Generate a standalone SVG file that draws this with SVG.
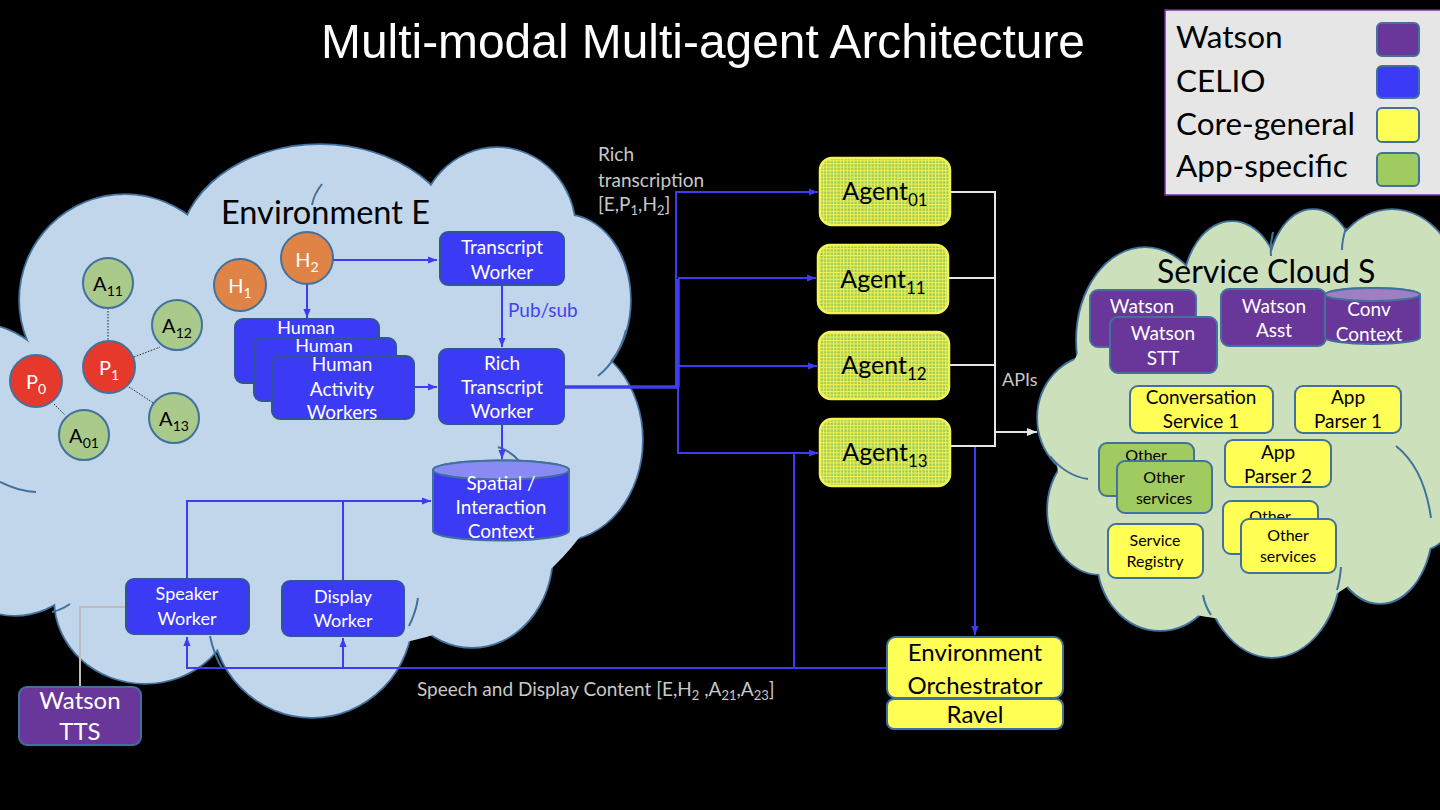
<svg xmlns="http://www.w3.org/2000/svg" width="1440" height="810" viewBox="0 0 1440 810">
<defs>
<style>
.t{font-family:Lato,'Open Sans','DejaVu Sans',sans-serif}
.w{fill:#fff}
.k{fill:#000}
.m{text-anchor:middle}
.celio{fill:#3b3bf6;stroke:#2f5597;stroke-width:2}
.watson{fill:#693699;stroke:#41719c;stroke-width:2}
.core{fill:#ffff55;stroke:#41719c;stroke-width:2}
.app{fill:#a0cb60;stroke:#41719c;stroke-width:2}
.agent{fill:url(#grid);stroke:#f4f450;stroke-width:2.5}
.circ{stroke:#41719c;stroke-width:2}
.blue{fill:none;stroke:#3c3cf5;stroke-width:2}
.wline{fill:none;stroke:#e6e6e6;stroke-width:2}
.gline{fill:none;stroke:#bdbdbd;stroke-width:2}
.cs{fill:none;stroke:#41719c;stroke-width:3.5}
.envf{fill:#c2d6eb}
.svcf{fill:#cde0bc}
.arc{fill:none;stroke:#41719c;stroke-width:2}
.dot{stroke:#222;stroke-width:1;stroke-dasharray:1.5 1.5}
.lbl{fill:#c8c8c8}
</style>
<pattern id="grid" width="3.4" height="3.4" patternUnits="userSpaceOnUse"><rect width="3.4" height="3.4" fill="#9ccb5a"/><path d="M0 0.55H3.4M0.55 0V3.4" stroke="#f2f252" stroke-width="1.1"/></pattern>
<marker id="ab" viewBox="0 0 10 10" refX="10" refY="5" markerWidth="9" markerHeight="9" markerUnits="userSpaceOnUse" orient="auto"><path d="M0 1L10 5L0 9Z" fill="#3c3cf5"/></marker>
<marker id="aw" viewBox="0 0 10 10" refX="10" refY="5" markerWidth="10" markerHeight="10" markerUnits="userSpaceOnUse" orient="auto"><path d="M0 1L10 5L0 9Z" fill="#e6e6e6"/></marker>
</defs>
<rect width="1440" height="810" fill="#000"/>

<text x="321" y="58" font-family="'Liberation Sans',Arial,sans-serif" font-size="49" fill="#fff" textLength="764" lengthAdjust="spacingAndGlyphs">Multi-modal Multi-agent Architecture</text>

<g id="legend">
<rect x="1165" y="10" width="276" height="185" fill="#e7e6e6" stroke="#7030a0" stroke-width="1.5"/>
<g class="t k" font-size="31.5">
<text x="1176" y="48">Watson</text>
<text x="1176" y="92">CELIO</text>
<text x="1176" y="135">Core-general</text>
<text x="1176" y="177">App-specific</text>
</g>
<rect x="1377" y="23" width="42" height="33" rx="5" class="watson"/>
<rect x="1377" y="66" width="42" height="32" rx="5" class="celio" style="stroke:#41719c"/>
<rect x="1377" y="108" width="42" height="34" rx="5" class="core"/>
<rect x="1377" y="153" width="42" height="33" rx="5" class="app"/>
</g>

<g id="environment-cloud">
<g class="cs">
<circle cx="-25" cy="412" r="88"/><circle cx="125" cy="300" r="105"/>
<ellipse cx="320" cy="250" rx="140" ry="105"/><ellipse cx="497" cy="230" rx="78" ry="82"/>
<ellipse cx="565" cy="300" rx="65" ry="85"/><ellipse cx="560" cy="440" rx="82" ry="100"/>
<ellipse cx="472" cy="555" rx="80" ry="92"/><ellipse cx="312" cy="615" rx="100" ry="102"/>
<ellipse cx="145" cy="600" rx="90" ry="83"/><ellipse cx="15" cy="530" rx="80" ry="85"/>
</g>
<g class="envf">
<circle cx="-25" cy="412" r="88"/><circle cx="125" cy="300" r="105"/>
<ellipse cx="320" cy="250" rx="140" ry="105"/><ellipse cx="497" cy="230" rx="78" ry="82"/>
<ellipse cx="565" cy="300" rx="65" ry="85"/><ellipse cx="560" cy="440" rx="82" ry="100"/>
<ellipse cx="472" cy="555" rx="80" ry="92"/><ellipse cx="312" cy="615" rx="100" ry="102"/>
<ellipse cx="145" cy="600" rx="90" ry="83"/><ellipse cx="15" cy="530" rx="80" ry="85"/>
<ellipse cx="330" cy="420" rx="290" ry="230"/>
</g>
<g class="arc">
<path d="M0 482Q20 492 36 492"/>
<path d="M322 184Q314 194 312 205"/>
<path d="M626 330A65 85 0 0 1 598 376"/>
<path d="M498 447Q511 451 520 462"/>
<path d="M418 598Q416 612 409 626"/>
<path d="M210 636Q214 655 222 668"/>
<path d="M52 612Q61 610 70 604"/>
</g>
<text x="221" y="224" class="t k" font-size="32.5">Environment E</text>
</g>

<g id="service-cloud">
<g class="cs">
<ellipse cx="1095" cy="418" rx="57" ry="62"/><ellipse cx="1145" cy="340" rx="68" ry="92"/>
<ellipse cx="1232" cy="290" rx="48" ry="68"/><ellipse cx="1313" cy="280" rx="45" ry="70"/>
<ellipse cx="1392" cy="300" rx="70" ry="90"/><ellipse cx="1420" cy="410" rx="60" ry="140"/>
<ellipse cx="1380" cy="525" rx="52" ry="78"/><ellipse cx="1272" cy="565" rx="68" ry="92"/>
<ellipse cx="1160" cy="560" rx="62" ry="70"/><ellipse cx="1100" cy="510" rx="52" ry="64"/>
</g>
<g class="svcf">
<ellipse cx="1095" cy="418" rx="57" ry="62"/><ellipse cx="1145" cy="340" rx="68" ry="92"/>
<ellipse cx="1232" cy="290" rx="48" ry="68"/><ellipse cx="1313" cy="280" rx="45" ry="70"/>
<ellipse cx="1392" cy="300" rx="70" ry="90"/><ellipse cx="1420" cy="410" rx="60" ry="140"/>
<ellipse cx="1380" cy="525" rx="52" ry="78"/><ellipse cx="1272" cy="565" rx="68" ry="92"/>
<ellipse cx="1160" cy="560" rx="62" ry="70"/><ellipse cx="1100" cy="510" rx="52" ry="64"/>
<ellipse cx="1240" cy="440" rx="185" ry="180"/>
</g>
<g class="arc">
<path d="M1050 456Q1066 476 1088 479"/>
<path d="M1203 595Q1205 606 1211 615"/>
<path d="M1273 232Q1270 245 1271 256"/>
<path d="M1346 228Q1342 240 1342 250"/>
<path d="M1396 446Q1424 468 1431 518"/>
<path d="M1341 567Q1340 580 1337 590"/>
</g>
<text x="1157" y="283" class="t k" font-size="32">Service Cloud S</text>
</g>

<g id="connectors">
<g class="dot">
<path d="M108 308V341"/><path d="M134 357L160 347"/><path d="M129 387L155 404"/><path d="M54 404L65 415"/>
</g>
<path class="blue" d="M333 260H437" marker-end="url(#ab)"/>
<path class="blue" d="M307 284V318" marker-end="url(#ab)"/>
<path class="blue" d="M414 387H437" marker-end="url(#ab)"/>
<path class="blue" d="M502 285V347" marker-end="url(#ab)"/>
<path class="blue" d="M502 424V459" marker-end="url(#ab)"/>
<path class="blue" d="M187 579V501H431" marker-end="url(#ab)"/>
<path class="blue" d="M343 580V501"/>
<path class="blue" d="M565 387H679" style="stroke-width:3.5"/>
<path class="blue" d="M678 387V279" style="stroke-width:3.5"/>
<path class="blue" d="M676 387V192H818" marker-end="url(#ab)"/>
<path class="blue" d="M678 278H816" marker-end="url(#ab)"/>
<path class="blue" d="M678 366H817" marker-end="url(#ab)"/>
<path class="blue" d="M678 387V453H818" marker-end="url(#ab)"/>
<path class="wline" d="M950 192H995M948 278H995M949 365H995M950 446H995M995 191V447"/>
<path class="wline" d="M995 432H1037" marker-end="url(#aw)"/>
<path class="blue" d="M975 447V635" marker-end="url(#ab)"/>
<path class="blue" d="M887 668H187V637" marker-end="url(#ab)"/>
<path class="blue" d="M343 668V638" marker-end="url(#ab)"/>
<path class="blue" d="M794 668V453"/>
<path class="gline" d="M126 607H80V687"/>
<g class="t lbl" font-size="19">
<text x="598" y="161">Rich</text>
<text x="598" y="187">transcription</text>
<text x="598" y="211">[E,P<tspan font-size="13" dy="4">1</tspan><tspan dy="-4">,H</tspan><tspan font-size="13" dy="4">2</tspan><tspan dy="-4">]</tspan></text>
<text x="1002" y="386" font-size="18">APIs</text>
<text x="417" y="696">Speech and Display Content [E,H<tspan font-size="13" dy="4">2</tspan><tspan dy="-4"> ,A</tspan><tspan font-size="13" dy="4">21</tspan><tspan dy="-4">,A</tspan><tspan font-size="13" dy="4">23</tspan><tspan dy="-4">]</tspan></text>
</g>
<text x="508" y="317" class="t" font-size="19" fill="#4343f2">Pub/sub</text>
</g>

<g id="A11"><circle cx="108" cy="283" r="25" fill="#a9ca8b" class="circ"/><text x="108" y="291" class="t k m" font-size="20">A<tspan font-size="14" dy="5">11</tspan></text></g>
<g id="A12"><circle cx="177" cy="325" r="25" fill="#a9ca8b" class="circ"/><text x="177" y="333" class="t k m" font-size="20">A<tspan font-size="14" dy="5">12</tspan></text></g>
<g id="A13"><circle cx="174" cy="418" r="25" fill="#a9ca8b" class="circ"/><text x="174" y="426" class="t k m" font-size="20">A<tspan font-size="14" dy="5">13</tspan></text></g>
<g id="A01"><circle cx="84" cy="435" r="25" fill="#a9ca8b" class="circ"/><text x="84" y="443" class="t k m" font-size="20">A<tspan font-size="14" dy="5">01</tspan></text></g>
<g id="P1"><circle cx="109" cy="367" r="26" fill="#e7392b" class="circ"/><text x="109" y="375" class="t w m" font-size="20">P<tspan font-size="14" dy="5">1</tspan></text></g>
<g id="P0"><circle cx="36" cy="381" r="26" fill="#e7392b" class="circ"/><text x="36" y="389" class="t w m" font-size="20">P<tspan font-size="14" dy="5">0</tspan></text></g>
<g id="H2"><circle cx="307" cy="258" r="26" fill="#df8446" class="circ"/><text x="307" y="267" class="t w m" font-size="20">H<tspan font-size="14" dy="5">2</tspan></text></g>
<g id="H1"><circle cx="240" cy="285" r="26" fill="#df8446" class="circ"/><text x="240" y="293" class="t w m" font-size="20">H<tspan font-size="14" dy="5">1</tspan></text></g>

<g id="transcript-worker"><rect x="440" y="232" width="124" height="53" rx="8" class="celio"/><text class="t w m" font-size="19"><tspan x="502" y="254">Transcript</tspan><tspan x="502" y="279">Worker</tspan></text></g>
<g id="rich-transcript-worker"><rect x="439" y="349" width="125" height="75" rx="8" class="celio"/><text class="t w m" font-size="19"><tspan x="502" y="370">Rich</tspan><tspan x="502" y="394">Transcript</tspan><tspan x="502" y="418">Worker</tspan></text></g>
<g id="human-activity-workers">
<rect x="235" y="319" width="144" height="64" rx="8" class="celio"/><text x="306" y="334" class="t w m" font-size="18">Human</text>
<rect x="254" y="338" width="142" height="63" rx="8" class="celio"/><text x="324" y="352" class="t w m" font-size="18">Human</text>
<rect x="272" y="356" width="142" height="63" rx="8" class="celio"/><text class="t w m" font-size="19"><tspan x="342" y="371">Human</tspan><tspan x="342" y="396">Activity</tspan><tspan x="342" y="419">Workers</tspan></text>
</g>
<g id="spatial-context">
<path d="M433 470V531A68 9.5 0 0 0 569 531V470A68 9.5 0 0 0 433 470Z" class="celio" style="stroke:#41719c"/>
<ellipse cx="501" cy="470" rx="68" ry="9.5" fill="#8a8af5" stroke="#41719c" stroke-width="2"/>
<text class="t w m" font-size="19"><tspan x="501" y="490">Spatial /</tspan><tspan x="501" y="514">Interaction</tspan><tspan x="501" y="538">Context</tspan></text>
</g>
<g id="speaker-worker"><rect x="126" y="579" width="123" height="55" rx="8" class="celio"/><text class="t w m" font-size="18"><tspan x="187" y="600">Speaker</tspan><tspan x="187" y="625">Worker</tspan></text></g>
<g id="display-worker"><rect x="282" y="581" width="122" height="55" rx="8" class="celio"/><text class="t w m" font-size="18"><tspan x="343" y="603">Display</tspan><tspan x="343" y="627">Worker</tspan></text></g>
<g id="watson-tts"><rect x="19" y="687" width="122" height="58" rx="8" class="watson"/><text class="t w m" font-size="24"><tspan x="80" y="709">Watson</tspan><tspan x="80" y="740">TTS</tspan></text></g>

<g id="agent01"><rect x="820" y="158" width="130" height="67" rx="12" class="agent"/><text x="885" y="200" class="t k m" font-size="25">Agent<tspan font-size="17" dy="6">01</tspan></text></g>
<g id="agent11"><rect x="818" y="245" width="130" height="68" rx="12" class="agent"/><text x="883" y="288" class="t k m" font-size="25">Agent<tspan font-size="17" dy="6">11</tspan></text></g>
<g id="agent12"><rect x="819" y="332" width="130" height="67" rx="12" class="agent"/><text x="884" y="374" class="t k m" font-size="25">Agent<tspan font-size="17" dy="6">12</tspan></text></g>
<g id="agent13"><rect x="820" y="419" width="130" height="67" rx="12" class="agent"/><text x="885" y="461" class="t k m" font-size="25">Agent<tspan font-size="17" dy="6">13</tspan></text></g>

<g id="environment-orchestrator"><rect x="887" y="637" width="176" height="61" rx="9" class="core"/><text class="t k m" font-size="24"><tspan x="975" y="661">Environment</tspan><tspan x="975" y="694">Orchestrator</tspan></text></g>
<g id="ravel"><rect x="887" y="699" width="176" height="30" rx="7" class="core"/><text x="975" y="723" class="t k m" font-size="24">Ravel</text></g>

<g id="watson-back"><rect x="1090" y="290" width="106" height="57" rx="8" class="watson"/><text x="1142" y="313" class="t w m" font-size="19">Watson</text></g>
<g id="watson-stt"><rect x="1110" y="317" width="107" height="56" rx="8" class="watson"/><text class="t w m" font-size="19"><tspan x="1163" y="340">Watson</tspan><tspan x="1163" y="365">STT</tspan></text></g>
<g id="watson-asst"><rect x="1221" y="289" width="105" height="57" rx="8" class="watson"/><text class="t w m" font-size="19"><tspan x="1274" y="313">Watson</tspan><tspan x="1274" y="337">Asst</tspan></text></g>
<g id="conv-context">
<path d="M1325 294.5V337.5A47.5 6.5 0 0 0 1420 337.5V294.5A47.5 6.5 0 0 0 1325 294.5Z" class="watson"/>
<ellipse cx="1372.5" cy="294.5" rx="47.5" ry="6.5" fill="#9f7fc4" stroke="#41719c" stroke-width="2"/>
<text class="t w m" font-size="19"><tspan x="1369" y="316">Conv</tspan><tspan x="1369" y="341">Context</tspan></text>
</g>
<g id="conversation-service-1"><rect x="1130" y="386" width="143" height="47" rx="8" class="core"/><text class="t k m" font-size="19"><tspan x="1201" y="404">Conversation</tspan><tspan x="1201" y="428">Service 1</tspan></text></g>
<g id="app-parser-1"><rect x="1295" y="386" width="106" height="47" rx="8" class="core"/><text class="t k m" font-size="19"><tspan x="1348" y="404">App</tspan><tspan x="1348" y="428">Parser 1</tspan></text></g>
<g id="other-services-green">
<rect x="1099" y="443" width="95" height="53" rx="8" class="app"/><text x="1146" y="461" class="t k m" font-size="16">Other</text>
<rect x="1117" y="461" width="95" height="52" rx="8" class="app"/><text class="t k m" font-size="16"><tspan x="1164" y="483">Other</tspan><tspan x="1164" y="504">services</tspan></text>
</g>
<g id="app-parser-2"><rect x="1225" y="440" width="106" height="47" rx="8" class="core"/><text class="t k m" font-size="19"><tspan x="1278" y="459">App</tspan><tspan x="1278" y="483">Parser 2</tspan></text></g>
<g id="other-services-yellow">
<rect x="1223" y="501" width="95" height="53" rx="8" class="core"/><text x="1270" y="522" class="t k m" font-size="16">Other</text>
<rect x="1241" y="519" width="95" height="54" rx="8" class="core"/><text class="t k m" font-size="16"><tspan x="1288" y="541">Other</tspan><tspan x="1288" y="562">services</tspan></text>
</g>
<g id="service-registry"><rect x="1108" y="524" width="95" height="54" rx="8" class="core"/><text class="t k m" font-size="16"><tspan x="1155" y="546">Service</tspan><tspan x="1155" y="567">Registry</tspan></text></g>
</svg>
